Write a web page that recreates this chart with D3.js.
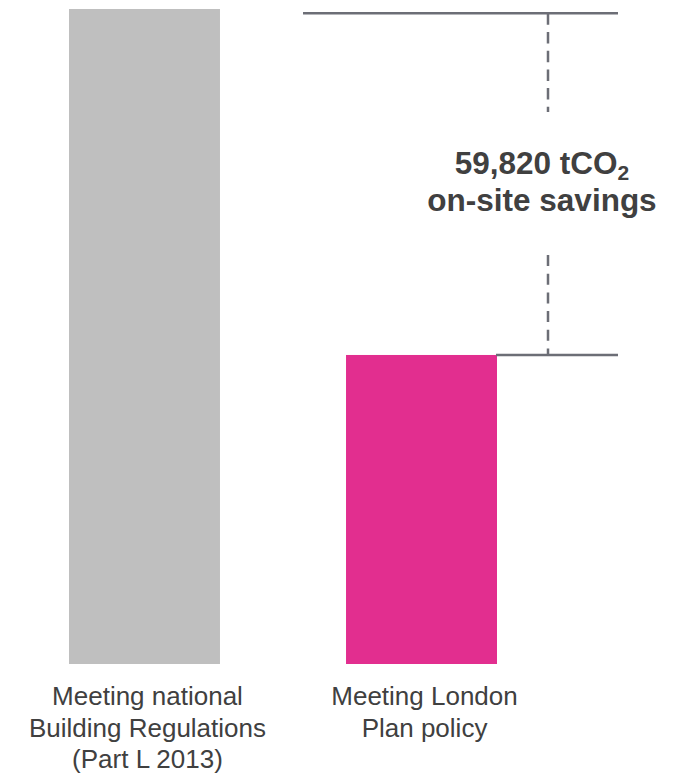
<!DOCTYPE html>
<html>
<head>
<meta charset="utf-8">
<script src="https://cdn.jsdelivr.net/npm/d3@7"></script>
<style>
  html, body { margin: 0; padding: 0; background: #ffffff; }
  svg { display: block; }
</style>
</head>
<body>
<svg id="chart" width="674" height="773"></svg>
<script>
// ---- data ----
const categories = ["national", "london"];
const values = [114670, 54100];              // tCO2
const savings = 59820;                        // annotated difference
const labelLines = [
  ["Meeting national", "Building Regulations", "(Part L 2013)"],
  ["Meeting London", "Plan policy"]
];
const annotationLines = ["59,820 tCO", "on-site savings"];
const barColors = ["#bfbfbf", "#e22e8f"];

// ---- layout ----
const svg = d3.select("#chart");
const baseY = 664, topY = 9;
const font = "'Liberation Sans', Arial, Helvetica, sans-serif";
const textColor = "#404040";
const lineColor = "#6c6e76";

const x = d3.scaleBand().domain(categories).range([69, 497]).paddingInner(0.455).paddingOuter(0);
const y = d3.scaleLinear().domain([0, values[0]]).range([baseY, topY]);

// bars
svg.selectAll("rect.bar").data(categories).join("rect")
  .attr("class", "bar")
  .attr("x", d => x(d))
  .attr("width", x.bandwidth())
  .attr("y", (d, i) => y(values[i]))
  .attr("height", (d, i) => baseY - y(values[i]))
  .attr("fill", (d, i) => barColors[i]);

// annotation bracket
const lowVal = values[1];
const highVal = values[1] + savings;
const x2 = x(categories[1]);
const bw = x.bandwidth();
const lineRight = x2 + bw + 121;
const dashX = x2 + bw + 51;

svg.append("line")
  .attr("x1", x2 - 43).attr("x2", lineRight)
  .attr("y1", y(highVal)).attr("y2", y(highVal))
  .attr("stroke", lineColor).attr("stroke-width", 2.5);
svg.append("line")
  .attr("x1", x2 + bw - 1).attr("x2", lineRight)
  .attr("y1", y(lowVal)).attr("y2", y(lowVal))
  .attr("stroke", lineColor).attr("stroke-width", 2.5);

// dashed vertical segments (gap around the text)
svg.append("line")
  .attr("x1", dashX).attr("x2", dashX)
  .attr("y1", y(highVal)).attr("y2", 112)
  .attr("stroke", lineColor).attr("stroke-width", 2.5)
  .attr("stroke-dasharray", "11.5,7.2");
svg.append("line")
  .attr("x1", dashX).attr("x2", dashX)
  .attr("y1", 255).attr("y2", y(lowVal))
  .attr("stroke", lineColor).attr("stroke-width", 2.5)
  .attr("stroke-dasharray", "11,7.7");

// annotation text
const tx = 542;
const t1 = svg.append("text")
  .attr("x", tx).attr("y", 174)
  .attr("text-anchor", "middle")
  .attr("font-family", font).attr("font-weight", "bold")
  .attr("font-size", 31.5).attr("fill", textColor);
t1.append("tspan").text(annotationLines[0]);
t1.append("tspan").attr("font-size", 21).attr("dy", 6).text("2");

svg.append("text")
  .attr("x", tx).attr("y", 211)
  .attr("text-anchor", "middle")
  .attr("font-family", font).attr("font-weight", "bold")
  .attr("font-size", 31.5).attr("fill", textColor)
  .text(annotationLines[1]);

// category labels
categories.forEach((c, i) => {
  const cx = x(c) + bw / 2 + 3;
  const t = svg.append("text")
    .attr("text-anchor", "middle")
    .attr("font-family", font).attr("font-size", 26)
    .attr("fill", textColor);
  labelLines[i].forEach((ln, j) => {
    t.append("tspan").attr("x", cx).attr("y", 705 + j * 31.5).text(ln);
  });
});
</script>
</body>
</html>
